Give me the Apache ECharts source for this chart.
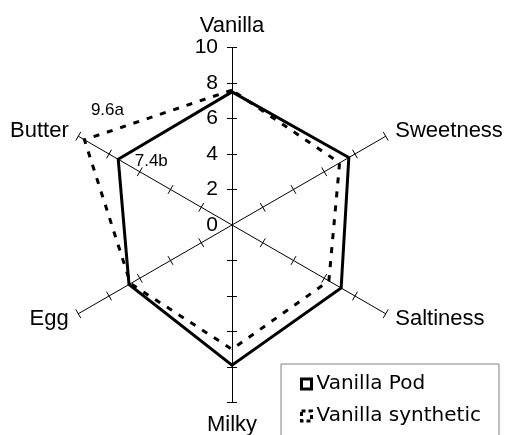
<!DOCTYPE html>
<html>
<head>
<meta charset="utf-8">
<script src="https://cdn.jsdelivr.net/npm/echarts@6/dist/echarts.min.js"></script>
<style>
  html, body { margin: 0; padding: 0; background: #fff; }
  #chart { width: 505px; height: 435px; }
</style>
</head>
<body>
<div id="chart"></div>
<script>
// radar goes counterclockwise from the top
const categories = ['Vanilla', 'Butter', 'Egg', 'Milky', 'Saltiness', 'Sweetness'];
const podValues = [7.5, 7.4, 6.7, 7.9, 7.1, 7.6];
const syntheticValues = [7.6, 9.6, 6.6, 7.0, 6.3, 7.0];
const seriesNames = ['Vanilla Pod', 'Vanilla synthetic'];
const tickValues = [2, 4, 6, 8, 10];
const labelSuffix = ['b', 'a'];

const chart = echarts.init(document.getElementById('chart'));

const font = 'Liberation Sans, Arial, sans-serif';

function indicators(withLabels) {
    return categories.map(function (name, i) {
        const item = {name: name, min: 0, max: 10};
        if (withLabels && i === 0) {
            item.axisLabel = {show: true};
        }
        return item;
    });
}

const baseRadar = {
    center: [232, 225],
    radius: 177.5,
    startAngle: 90,
    splitNumber: 5,
    shape: 'polygon',
    splitLine: {show: false},
    splitArea: {show: false}
};

function butterLabel(values, k) {
    return function (p) {
        return p.value === values[1] ? p.value + labelSuffix[k] : '';
    };
}

const option = {
    backgroundColor: '#fff',
    animation: false,
    radar: [
        Object.assign({}, baseRadar, {
            indicator: indicators(true),
            nameGap: 11,
            axisName: {color: '#000', fontSize: 22, fontFamily: font},
            axisLine: {show: true, lineStyle: {color: '#000', width: 1}},
            axisTick: {show: true, length: 5, customValues: tickValues, lineStyle: {color: '#000', width: 1}},
            axisLabel: {show: false, color: '#000', fontSize: 21, fontFamily: font, margin: 14, customValues: [0].concat(tickValues)}
        }),
        // second copy only to put the ticks across the axis
        Object.assign({}, baseRadar, {
            indicator: indicators(false),
            axisName: {show: false},
            axisLine: {show: false},
            axisTick: {show: true, length: -5, customValues: tickValues, lineStyle: {color: '#000', width: 1}},
            axisLabel: {show: false}
        })
    ],
    legend: {
        orient: 'vertical',
        left: 281,
        top: 364,
        height: 90,
        padding: [10, 18, 12, 19],
        itemGap: 12,
        itemWidth: 10,
        itemHeight: 10,
        borderColor: '#808080',
        borderWidth: 1,
        textStyle: {color: '#000', fontSize: 20, fontFamily: 'DejaVu Sans, sans-serif'},
        data: [
            {name: seriesNames[0], icon: 'rect', itemStyle: {color: '#fff', borderColor: '#000', borderWidth: 3, borderType: 'solid'}},
            {name: seriesNames[1], icon: 'rect', itemStyle: {color: '#fff', borderColor: '#000', borderWidth: 3, borderType: [4, 3]}}
        ]
    },
    series: [{
        type: 'radar',
        radarIndex: 0,
        symbol: 'circle',
        symbolSize: 1,
        itemStyle: {color: '#000'},
        data: [
            {
                name: seriesNames[0],
                value: podValues,
                lineStyle: {color: '#000', width: 3, type: 'solid', join: 'miter'},
                label: {
                    show: true, position: 'inside', offset: [33, 2],
                    color: '#000', fontSize: 17, fontFamily: font,
                    formatter: butterLabel(podValues, 0)
                }
            },
            {
                name: seriesNames[1],
                value: syntheticValues,
                lineStyle: {color: '#000', width: 3, type: [6, 8], join: 'miter'},
                label: {
                    show: true, position: 'inside', offset: [23, -29],
                    color: '#000', fontSize: 17, fontFamily: font,
                    formatter: butterLabel(syntheticValues, 1)
                }
            }
        ]
    }]
};

chart.setOption(option);
</script>
</body>
</html>
